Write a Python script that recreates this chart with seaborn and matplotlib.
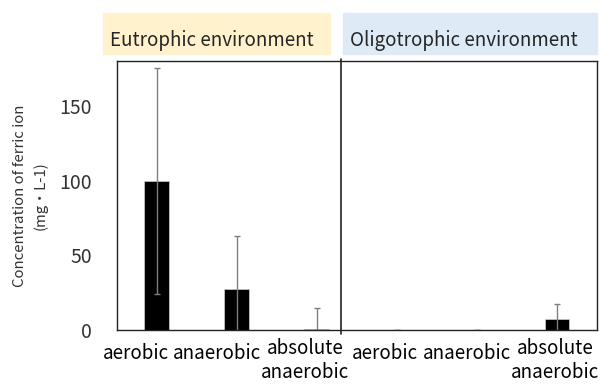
import matplotlib
matplotlib.use("Agg")
import matplotlib.pyplot as plt
import matplotlib.transforms as mtransforms
import seaborn as sns
import pandas as pd
from matplotlib.patches import Rectangle

# data
groups = ["Eutrophic environment", "Oligotrophic environment"]
conditions = ["aerobic", "anaerobic", "absolute\nanaerobic"]
means = [99.5, 27.2, 0.5, 0, 0, 7.2]
errors = [75.5, 36, 14.5, 0, 0, 10.5]

keys = [f"{g}|{c}" for g in groups for c in conditions]
df = pd.DataFrame({"key": keys, "mean": means, "err": errors})

sns.set_theme(style="white")
plt.rcParams["font.family"] = ["Noto Sans CJK JP", "DejaVu Sans"]

fig = plt.figure(figsize=(6, 3.86), dpi=100)
ax = fig.add_axes([0.1945, 0.1451, 0.8005, 0.6969])

sns.barplot(data=df, x="key", y="mean", color="black", width=0.31,
            edgecolor="#d0d0d0", linewidth=0.5, errorbar=None, ax=ax)
for bar, m in zip(ax.patches, means):
    if m == 0:
        bar.set_linewidth(0)
ax.errorbar(range(len(df)), df["mean"], yerr=df["err"], fmt="none",
            ecolor="#7f7f7f", elinewidth=1, capsize=2.5, capthick=1)

ax.set_ylim(0, 180)
ax.set_xlim(-0.5, len(df) - 0.5)
ax.set_yticks([0, 50, 100, 150])
ax.set_xticks(range(len(df)))
ax.set_xticklabels(conditions * 2)
ax.tick_params(axis="y", length=0, pad=18, labelsize=14, labelcolor="#333333")
ax.tick_params(axis="x", length=0, pad=6, labelsize=13.5, labelcolor="black")

# Excel-like label placement (labels sit a little left of the bars)
dx_px = [-21, -20, -12, -12, -10, -2]
for lab, dx in zip(ax.get_xticklabels(), dx_px):
    dy = 0 if "\n" in lab.get_text() else -5
    off = mtransforms.ScaledTranslation(dx / 100, dy / 100, fig.dpi_scale_trans)
    lab.set_transform(lab.get_transform() + off)
    lab.set_verticalalignment("top")
    lab.set_linespacing(1.15)

ax.set_xlabel("")
ax.set_ylabel("Concentration of ferric ion\n(mg・L-1)", fontsize=10.75,
              color="#333333", labelpad=8, linespacing=1.55)

for s in ax.spines.values():
    s.set_color("#222222")
    s.set_linewidth(1)

# divider between the two environments
ax.axvline(2.3, ymin=-0.015, ymax=1.008, color="#222222", lw=1.2, clip_on=False)

# header boxes
fig.patches.append(Rectangle((0.1712, 0.8593), 0.3788, 0.1062,
                             transform=fig.transFigure, color="#fff2cc", zorder=0))
fig.patches.append(Rectangle((0.5717, 0.8593), 0.4233, 0.1062,
                             transform=fig.transFigure, color="#deebf7", zorder=0))
fig.text(0.1833, 0.8816, groups[0], fontsize=13.5, va="baseline", ha="left")
fig.text(0.5833, 0.8816, groups[1], fontsize=13.5, va="baseline", ha="left")

fig.savefig("out.png", dpi=100)
